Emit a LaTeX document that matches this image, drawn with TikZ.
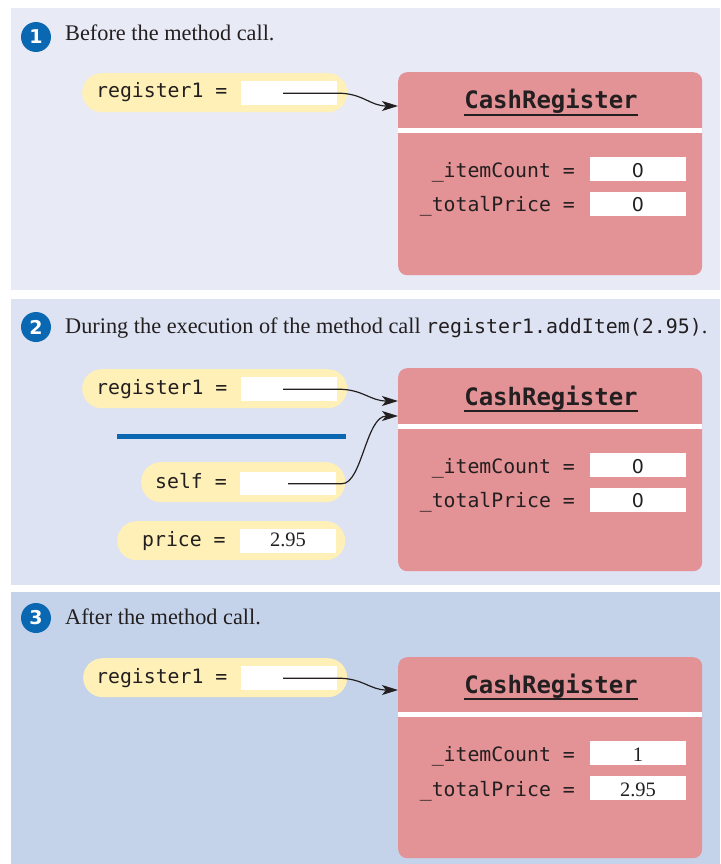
\documentclass[tikz,border=0pt]{standalone}
\usepackage{fontspec}
\setmainfont{Liberation Serif}
\setmonofont{DejaVu Sans Mono}
\newfontfamily\stepfont{DejaVu Sans}
\usetikzlibrary{arrows.meta}

\definecolor{panelA}{RGB}{232,234,246}
\definecolor{panelB}{RGB}{221,227,243}
\definecolor{panelC}{RGB}{197,211,234}
\definecolor{pillcol}{RGB}{254,240,182}
\definecolor{objpink}{RGB}{227,146,149}
\definecolor{stepblue}{RGB}{10,104,178}
\definecolor{ink}{RGB}{35,31,32}

\tikzset{
  panelbg/.style={fill=#1, draw=none},
  stepcircle/.style={circle, fill=stepblue, text=white, minimum size=30pt, inner sep=0pt,
    font=\stepfont\bfseries\fontsize{19}{19}\selectfont},
  titletext/.style={anchor=base west, inner sep=0pt, text=ink, font=\fontsize{22.3}{26}\selectfont},
  pillbox/.style={fill=pillcol, rounded corners=19.5pt, minimum height=39pt, inner sep=0pt, anchor=north west},
  valbox/.style={fill=white, minimum width=96pt, minimum height=24pt, inner sep=0pt, anchor=north west},
  monotext/.style={inner sep=0pt, text=ink, font=\ttfamily\fontsize{19.8}{22}\selectfont},
  zeroval/.style={inner sep=0pt, text=ink, anchor=base, font=\stepfont\fontsize{19}{22}\selectfont},
  serifval/.style={inner sep=0pt, text=ink, anchor=base, font=\fontsize{20.5}{22}\selectfont},
  objbox/.style={fill=objpink, rounded corners=9pt, minimum width=304pt, inner sep=0pt, anchor=north west},
  sepline/.style={white, line width=5pt},
  classname/.style={inner sep=0pt, anchor=base, text=ink, font=\ttfamily\bfseries\fontsize{24}{26}\selectfont},
  ref/.style={draw=ink, line width=1.2pt, -{Stealth[length=16pt,width=10pt,inset=4pt]}},
  divider/.style={stepblue, line width=5pt}
}

\begin{document}
\begin{tikzpicture}[x=1pt,y=-1pt]
\useasboundingbox (0,0) rectangle (720,864);
\fill[white] (0,0) rectangle (720,864);

% ---------- panels
\fill[panelbg=panelA] (11,8) rectangle (720,290);
\fill[panelbg=panelB] (11,299) rectangle (720,585);
\fill[panelbg=panelC] (11,592) rectangle (720,864);

% ================= Panel 1
\node[stepcircle] (n1) at (36,37) {1};
\node[titletext] (t1) at (65,41) {Before the method call.};

\node[pillbox, minimum width=265pt] (p1) at (82,73) {};
\node[valbox] (v1) at (241,81) {};
\node[monotext, anchor=base west] (l1) at (96,98) {register1 =};

\node[objbox, minimum height=203pt] (o1) at (398,72) {};
\draw[sepline] ([yshift=-58.5pt]o1.north west) -- ([yshift=-58.5pt]o1.north east);
\node[classname] (c1) at (551,109) {CashRegister};
\draw[ink, line width=1.2pt] ([yshift=-6pt]c1.base west) -- ([yshift=-6pt]c1.base east);
\node[monotext, anchor=base east] (f1a) at (575,177) {\_itemCount =};
\node[monotext, anchor=base east] (f1b) at (575,211) {\_totalPrice =};
\node[valbox] (w1a) at (590,157) {};
\node[valbox] (w1b) at (590,192) {};
\node[zeroval] (x1a) at (638,177) {0};
\node[zeroval] (x1b) at (638,211) {0};

\coordinate (s1) at ([xshift=42pt]v1.west);
\coordinate (e1) at ([yshift=-34pt]o1.north west);
\draw[ref] (s1) -- ++(55,0) .. controls +(25,0) and +(-28,0) .. (e1);

% ================= Panel 2
\node[stepcircle] (n2) at (36,327) {2};
\node[titletext] (t2) at (65,333) {During the execution of the method call {\ttfamily\fontsize{19.9}{22}\selectfont register1.addItem(2.95)}.};

\node[pillbox, minimum width=265pt] (p2) at (82,369) {};
\node[valbox] (v2) at (241,377) {};
\node[monotext, anchor=base west] (l2) at (96,394) {register1 =};

\draw[divider] (117,436) -- (346,436);

\node[pillbox, minimum width=204pt, minimum height=40pt] (p2s) at (141,462) {};
\node[valbox, minimum height=23pt] (v2s) at (240,472) {};
\node[monotext, anchor=base west] (l2s) at (155,488) {self =};

\node[pillbox, minimum width=228pt] (p2p) at (117,521) {};
\node[valbox] (v2p) at (240,529) {};
\node[monotext, anchor=base west] (l2p) at (142,546) {price =};
\node[serifval] (x2p) at (288,546) {2.95};

\node[objbox, minimum height=203pt] (o2) at (398,368) {};
\draw[sepline] ([yshift=-58.5pt]o2.north west) -- ([yshift=-58.5pt]o2.north east);
\node[classname] (c2) at (551,405) {CashRegister};
\draw[ink, line width=1.2pt] ([yshift=-6pt]c2.base west) -- ([yshift=-6pt]c2.base east);
\node[monotext, anchor=base east] (f2a) at (575,473) {\_itemCount =};
\node[monotext, anchor=base east] (f2b) at (575,507) {\_totalPrice =};
\node[valbox] (w2a) at (590,453) {};
\node[valbox] (w2b) at (590,488) {};
\node[zeroval] (x2a) at (638,473) {0};
\node[zeroval] (x2b) at (638,507) {0};

\coordinate (s2) at ([xshift=42pt]v2.west);
\coordinate (e2) at ([yshift=-33pt]o2.north west);
\draw[ref] (s2) -- ++(55,0) .. controls +(25,0) and +(-28,0) .. (e2);
\coordinate (s2s) at ([xshift=48pt]v2s.west);
\coordinate (e2s) at ([yshift=-48pt]o2.north west);
\draw[ref] (s2s) -- ++(54,0) .. controls +(20,0) and +(-32,0) .. (e2s);

% ================= Panel 3
\node[stepcircle] (n3) at (36,618) {3};
\node[titletext] (t3) at (65,624) {After the method call.};

\node[pillbox, minimum width=264pt] (p3) at (83,658) {};
\node[valbox] (v3) at (241,666) {};
\node[monotext, anchor=base west] (l3) at (96,683) {register1 =};

\node[objbox, minimum height=201pt] (o3) at (398,657) {};
\draw[sepline] ([yshift=-57.5pt]o3.north west) -- ([yshift=-57.5pt]o3.north east);
\node[classname] (c3) at (551,693) {CashRegister};
\draw[ink, line width=1.2pt] ([yshift=-6pt]c3.base west) -- ([yshift=-6pt]c3.base east);
\node[monotext, anchor=base east] (f3a) at (575,761) {\_itemCount =};
\node[monotext, anchor=base east] (f3b) at (575,796) {\_totalPrice =};
\node[valbox] (w3a) at (590,741) {};
\node[valbox] (w3b) at (590,776) {};
\node[serifval] (x3a) at (638,761) {1};
\node[serifval] (x3b) at (638,796) {2.95};

\coordinate (s3) at ([xshift=42pt]v3.west);
\coordinate (e3) at ([yshift=-33pt]o3.north west);
\draw[ref] (s3) -- ++(55,0) .. controls +(25,0) and +(-28,0) .. (e3);
\end{tikzpicture}
\end{document}
